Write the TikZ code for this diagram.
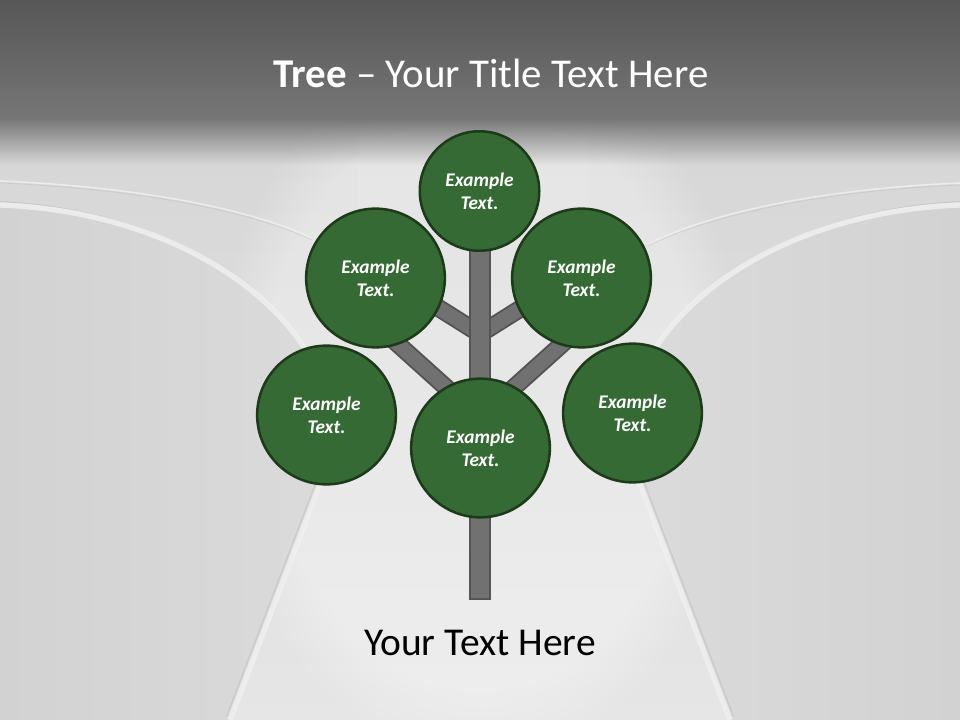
\documentclass[tikz,border=0pt]{standalone}
\usepackage{fontspec}
\setmainfont{Carlito}
\usetikzlibrary{fadings}
\definecolor{leaf}{HTML}{366A34}
\definecolor{leafedge}{HTML}{1D3A1B}
\definecolor{bark}{HTML}{717171}
\definecolor{barkedge}{HTML}{545454}
\definecolor{bgtopA}{HTML}{575757}
\definecolor{bgtopB}{HTML}{767676}
\definecolor{bgfadeA}{HTML}{7A7A7A}
\definecolor{bgmidA}{HTML}{D6D6D6}
\definecolor{bgmidB}{HTML}{E6E6E6}
\definecolor{outerA}{HTML}{D2D2D2}
\definecolor{outerB}{HTML}{DBDBDB}
\definecolor{edgelight}{HTML}{F0F0F0}
\definecolor{edgedark}{HTML}{BDBDBD}
\tikzset{
  leafc/.style={circle, draw=leafedge, line width=1.9pt, fill=leaf, text=white,
    font=\fontsize{14.5}{17}\selectfont\bfseries\itshape, align=center, inner sep=0pt},
  bigleaf/.style={leafc, minimum size=104pt},
  topleaf/.style={leafc, minimum size=89.6pt},
  branch/.style={draw=barkedge, line width=13.5pt, postaction={draw=bark, line width=10.6pt}},
  trunkbox/.style={rectangle, draw=barkedge, fill=bark, line width=1.5pt, inner sep=0pt,
    minimum width=14.3pt, minimum height=269pt},
  roadlight/.style={draw=edgelight, line width=4pt, opacity=0.85},
  roaddark/.style={draw=edgedark, line width=0.8pt, opacity=0.6},
  crease/.style={draw=edgedark, line width=0.6pt, opacity=0.45},
  creaselight/.style={draw=edgelight, line width=1.2pt, opacity=0.8}
}
\begin{document}
\begin{tikzpicture}[x=0.75pt,y=-0.75pt]
\useasboundingbox (0,0) rectangle (960,720);
% background
\shade[top color=bgmidA, bottom color=bgmidB] (0,120) rectangle (960,720);
\fill[white, opacity=0.32, path fading=circle with fuzzy edge 20 percent] (480,400) ellipse (270 and 360);
\fill[white, opacity=0.10] (357,133) rectangle (588,212);
\shade[left color=outerA, right color=outerB] (0,205) .. controls (190,212) and (335,320) .. (335,445) -- (230,720) -- (0,720) -- cycle;
\shade[left color=outerB, right color=outerA] (960,205) .. controls (770,212) and (625,320) .. (625,445) -- (730,720) -- (960,720) -- cycle;
% road edges
\draw[roaddark] ([shift={(-3.5,-3.5)}]0,205) .. controls ([shift={(-3.5,-3.5)}]190,212) and ([shift={(-3.5,-3.5)}]335,320) .. ([shift={(-3.5,-3.5)}]335,445) -- ([shift={(-3.5,-3.5)}]230,720);
\draw[roadlight] (0,205) .. controls (190,212) and (335,320) .. (335,445) -- (230,720);
\draw[roaddark] ([shift={(3.5,-3.5)}]960,205) .. controls ([shift={(3.5,-3.5)}]770,212) and ([shift={(3.5,-3.5)}]625,320) .. ([shift={(3.5,-3.5)}]625,445) -- ([shift={(3.5,-3.5)}]730,720);
\draw[roadlight] (960,205) .. controls (770,212) and (625,320) .. (625,445) -- (730,720);
% upper creases
\draw[creaselight] (0,181) .. controls (140,187) and (250,209) .. (312,238);
\draw[crease] (0,183) .. controls (140,189) and (250,211) .. (312,240);
\draw[creaselight] (960,183) .. controls (820,189) and (710,213) .. (648,244);
\draw[crease] (960,185) .. controls (820,191) and (710,215) .. (648,246);
% top band
\shade[top color=bgtopA, bottom color=bgtopB] (0,0) rectangle (960,120);
\fill[bgfadeA, path fading=south] (0,120) rectangle (960,165);
% titles
\node[font=\fontsize{30.7}{37}\selectfont, text=white, anchor=base] (title) at (491,88) {\textbf{Tree} – Your Title Text Here};
\node[font=\fontsize{29.6}{35}\selectfont, text=black, anchor=base] (caption) at (480,655) {Your Text Here};
% tree skeleton
\coordinate (jU) at (480,334);
\coordinate (jL) at (480,418);
\coordinate (eUL) at (410,290);
\coordinate (eUR) at (550,290);
\coordinate (eLL) at (385,332.5);
\coordinate (eLR) at (575,332.5);
\draw[branch] (jU) -- (eUL);
\draw[branch] (jU) -- (eUR);
\draw[branch] (jL) -- (eLL);
\draw[branch] (jL) -- (eLR);
\node[trunkbox] (trunk) at (480,420) {};
% leaves
\node[topleaf] (c1) at (479.5,191) {Example\\Text.};
\node[bigleaf] (c2) at (375.5,278) {Example\\Text.};
\node[bigleaf] (c3) at (581.5,278) {Example\\Text.};
\node[bigleaf] (c4) at (326.5,415) {Example\\Text.};
\node[bigleaf] (c5) at (632.5,413) {Example\\Text.};
\node[bigleaf] (c6) at (480.5,448) {Example\\Text.};
\end{tikzpicture}
\end{document}
